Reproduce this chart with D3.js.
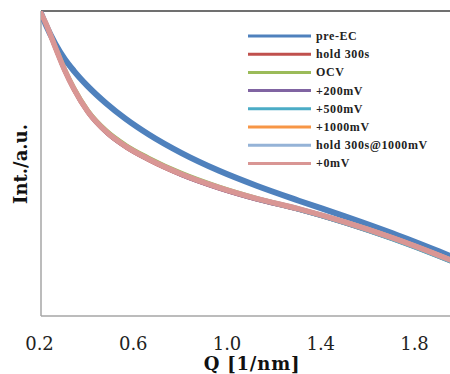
<!DOCTYPE html>
<html><head><meta charset="utf-8">
<script src="https://cdn.jsdelivr.net/npm/d3@7"></script>
<style>body{margin:0;background:#fff}svg{display:block}</style>
</head><body>
<svg id="c" width="450" height="374"></svg>
<script>
const qValues = [0.20,0.22,0.26,0.30,0.34,0.40,0.48,0.56,0.66,0.80,0.96,1.12,1.30,1.50,1.70,1.90,2.00];
const seriesNames = ["pre-EC","hold 300s","OCV","+200mV","+500mV","+1000mV","hold 300s@1000mV","+0mV"];
const seriesColors = ["#4F81BD","#C0504D","#9BBB59","#8064A2","#4BACC6","#F79646","#95B3D7","#D99694"];
const preEC      = [99.3,95.6,89.4,84.4,80.4,75.3,69.6,64.7,59.5,53.4,47.6,42.7,37.8,32.6,27.1,21.1,18.0];
const hold300s   = [99.3,95.9,88.0,80.5,74.2,66.7,60.0,55.4,51.1,46.2,41.8,38.2,34.8,30.3,25.2,19.4,16.3];
const ocv        = [99.3,96.1,88.7,81.3,75.0,67.5,60.8,56.2,51.9,46.9,42.4,38.7,35.2,30.8,25.7,19.9,16.8];
const mV200      = [99.3,95.9,88.1,80.6,74.3,66.8,60.1,55.5,51.2,46.2,41.8,38.2,34.8,30.4,25.3,19.5,16.4];
const mV500      = [99.3,96.0,88.2,80.7,74.4,66.9,60.2,55.6,51.3,46.4,42.0,38.3,34.8,30.3,25.1,19.3,16.2];
const mV1000     = [99.3,96.0,88.3,80.8,74.5,67.0,60.3,55.7,51.4,46.5,42.1,38.5,35.2,30.9,25.8,20.0,16.9];
const hold1000mV = [99.3,96.1,88.4,80.9,74.6,67.1,60.4,55.8,51.5,46.6,42.2,38.6,35.3,30.9,25.8,20.0,16.9];
const mV0        = [99.3,96.0,88.3,80.8,74.5,67.0,60.3,55.7,51.4,46.5,42.1,38.5,35.1,30.7,25.6,19.8,16.7];
const allSeries = [preEC,hold300s,ocv,mV200,mV500,mV1000,hold1000mV,mV0];
const xTicks = [0.2,0.6,1.0,1.4,1.8];

const svg = d3.select("#c");
const L = 41, T = 11, B = 316, R = 450;
const x = d3.scaleLinear().domain([0.2,1.8]).range([L,416]);
const y = d3.scaleLinear().domain([0,100]).range([B,T]);

svg.append("defs").append("clipPath").attr("id","clip")
  .append("rect").attr("x",L).attr("y",T).attr("width",R-L).attr("height",B-T);

// frame
svg.append("line").attr("x1",L).attr("x2",R).attr("y1",T).attr("y2",T)
  .attr("stroke","#404040").attr("stroke-width",1.5);
svg.append("line").attr("x1",L).attr("x2",L).attr("y1",T).attr("y2",B)
  .attr("stroke","#a6a6a6").attr("stroke-width",1.5);
svg.append("line").attr("x1",L).attr("x2",R).attr("y1",B).attr("y2",B)
  .attr("stroke","#a6a6a6").attr("stroke-width",1.5);

// x axis
const xAxis = d3.axisBottom(x).tickValues(xTicks).tickFormat(d3.format(".1f")).tickSize(0).tickPadding(0);
const gx = svg.append("g").attr("transform",`translate(-2,${B})`).call(xAxis);
gx.select(".domain").remove();
gx.selectAll("text").attr("font-family","DejaVu Serif").attr("font-size",18)
  .attr("fill","#222").attr("dy",0).attr("y",34);

svg.append("text").attr("x",252).attr("y",370).attr("text-anchor","middle")
  .attr("font-family","DejaVu Serif").attr("font-weight","bold").attr("font-size",18)
  .attr("letter-spacing",0.8).attr("fill","#111").text("Q [1/nm]");
svg.append("text").attr("transform","translate(27,164) rotate(-90)").attr("text-anchor","middle")
  .attr("font-family","DejaVu Serif").attr("font-weight","bold").attr("font-size",18)
  .attr("fill","#111").text("Int./a.u.");

// curves
const line = d3.line().x((d,i)=>x(qValues[i])).y(d=>y(d)).curve(d3.curveMonotoneX);
const gl = svg.append("g").attr("clip-path","url(#clip)");
allSeries.forEach((s,i)=>{
  gl.append("path").datum(s).attr("d",line).attr("fill","none")
    .attr("stroke",seriesColors[i]).attr("stroke-width",i===0?6:(i===7?5.5:4))
    .attr("stroke-linejoin","round").attr("stroke-linecap","round");
});

// legend
const lg = svg.append("g");
seriesNames.forEach((n,i)=>{
  const yy = 36 + i*18.2;
  lg.append("line").attr("x1",248).attr("x2",311).attr("y1",yy).attr("y2",yy)
    .attr("stroke",seriesColors[i]).attr("stroke-width",3);
  lg.append("text").attr("x",316).attr("y",yy+4).attr("font-family","Liberation Serif")
    .attr("font-size",12).attr("letter-spacing",0.6).attr("font-weight","bold")
    .attr("fill","#222").text(n);
});
</script>
</body></html>
